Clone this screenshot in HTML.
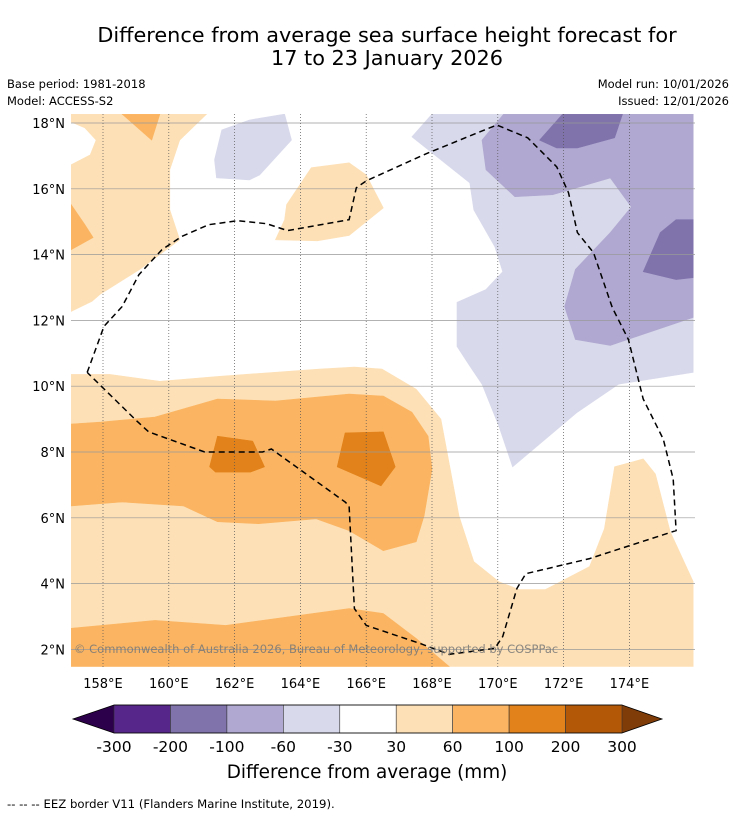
<!DOCTYPE html>
<html><head><meta charset="utf-8"><style>
body{margin:0;background:#fff;}
svg{display:block;font-family:"DejaVu Sans","Liberation Sans",sans-serif;}
</style></head><body>
<svg id="chart" width="736" height="816" viewBox="0 0 736 816">
<text x="387" y="42" font-size="20.8" text-anchor="middle">Difference from average sea surface height forecast for</text>
<text x="387" y="65" font-size="20.8" text-anchor="middle">17 to 23 January 2026</text>
<text x="7" y="88" font-size="11.5">Base period: 1981-2018</text>
<text x="7" y="105" font-size="11.5">Model: ACCESS-S2</text>
<text x="729" y="88" font-size="11.5" text-anchor="end">Model run: 10/01/2026</text>
<text x="729" y="105" font-size="11.5" text-anchor="end">Issued: 12/01/2026</text>
<defs><clipPath id="mapclip"><rect x="71" y="114" width="624" height="554"/></clipPath></defs>
<g id="map" clip-path="url(#mapclip)"></g>
<g id="axes"></g>
<text x="74" y="653" font-size="11.5" fill="#777" fill-opacity="0.85">© Commonwealth of Australia 2026, Bureau of Meteorology, supported by COSPPac</text>
<g id="cbar"></g>
<text x="367" y="778" font-size="18.4" text-anchor="middle">Difference from average (mm)</text>
<text x="7" y="808" font-size="11.7">--  --  -- EEZ border V11 (Flanders Marine Institute, 2019).</text>
</svg>
<script>
const lonTicks=[158,160,162,164,166,168,170,172,174];
const latTicks=[2,4,6,8,10,12,14,16,18];
const cbarLevels=["-300","-200","-100","-60","-30","30","60","100","200","300"];
const cbarColors=["#57268a","#8073ac","#b0a8d0","#d8d9eb","#ffffff","#fde0b6","#fbb562","#e2821a","#b35806"];
const cbarLow="#2d004b", cbarHigh="#7f3b08";
// contour polygons [lon,lat]
const loTopLeft=[[157.03,18.27],[161.15,18.27],[160.33,17.48],[160.03,16.58],[160.03,15.36],[160.33,14.45],[159.12,13.55],[157.91,12.79],[157.67,12.58],[157.03,12.27],[157.03,16.73],[157.61,17.03],[157.79,17.48],[157.45,17.85],[157.03,18.03]];
const moTopTri=[[158.58,18.27],[159.73,18.27],[159.48,17.48]];
const moLeftBlob=[[157.03,15.52],[157.45,14.91],[157.70,14.52],[157.03,14.15]];
const lpSmall=[[161.61,17.79],[162.45,18.09],[163.52,18.27],[163.73,17.48],[162.76,16.42],[162.45,16.27],[161.45,16.33],[161.39,16.88]];
const loCenter=[[164.33,16.64],[165.48,16.79],[166.0,16.42],[166.52,15.42],[165.48,14.58],[164.52,14.42],[163.24,14.45],[163.52,15.06],[163.58,15.52]];
const lpEast=[[168.0,18.27],[167.39,17.58],[169.15,16.18],[169.27,15.36],[169.91,14.24],[170.15,13.48],[169.64,12.94],[168.76,12.55],[168.76,11.21],[169.15,10.61],[169.52,10.06],[170.03,8.79],[170.45,7.55],[172.42,9.21],[173.67,10.06],[175.94,10.42],[175.94,18.27]];
const mpEast=[[170.18,18.27],[169.52,17.48],[169.64,16.58],[170.52,15.76],[171.67,15.82],[173.42,16.33],[174.06,15.45],[173.42,14.67],[172.36,13.55],[172.03,12.42],[172.36,11.42],[173.42,11.24],[175.94,12.09],[175.94,18.27]];
const dpTop=[[171.27,17.48],[171.97,18.27],[173.79,18.27],[173.55,17.55],[172.42,17.24],[171.79,17.24]];
const dpRight=[[174.42,13.48],[174.94,14.67],[175.42,15.06],[175.94,15.06],[175.94,13.30],[175.42,13.24]];
const loSouth=[[157.03,10.36],[158.21,10.36],[159.73,10.15],[161.55,10.30],[162.76,10.39],[164.58,10.52],[165.64,10.58],[166.48,10.52],[167.52,9.91],[168.27,9.0],[168.82,6.06],[169.27,4.67],[170.03,4.06],[170.64,3.82],[171.45,3.82],[172.79,4.52],[173.24,5.67],[173.55,7.55],[174.42,7.79],[174.79,7.33],[175.24,5.58],[175.94,4.06],[175.94,1.48],[157.03,1.48]];
const moBand=[[157.03,8.85],[157.94,8.91],[159.58,9.06],[161.48,9.61],[163.24,9.55],[165.48,9.76],[166.52,9.70],[167.39,9.21],[167.88,8.48],[168.0,7.48],[167.76,6.06],[167.52,5.27],[166.52,5.0],[165.48,5.61],[164.48,5.97],[162.73,5.82],[161.48,5.88],[160.45,6.36],[158.58,6.48],[157.03,6.36]];
const doA=[[161.48,8.48],[162.55,8.33],[162.91,7.55],[162.48,7.39],[161.42,7.39],[161.24,7.55]];
const doB=[[165.36,8.58],[166.52,8.61],[166.88,7.55],[166.45,6.97],[165.12,7.55]];
const moSouth=[[157.03,2.64],[159.58,2.88],[161.73,2.73],[165.48,3.24],[166.52,3.09],[167.52,2.33],[168.52,1.48],[157.03,1.48]];
const eez=[[157.52,10.42],[158.03,11.82],[158.58,12.42],[159.09,13.39],[159.79,14.15],[160.39,14.55],[161.21,14.91],[162.09,15.03],[162.97,14.94],[163.61,14.73],[165.48,15.06],[165.70,16.03],[166.0,16.24],[167.88,17.09],[169.97,17.94],[170.91,17.55],[171.79,16.67],[172.15,15.88],[172.42,14.67],[172.91,14.06],[173.48,12.39],[173.97,11.42],[174.42,9.61],[175.03,8.39],[175.33,7.18],[175.42,5.61],[172.79,4.76],[170.85,4.30],[170.58,3.85],[170.15,2.39],[169.91,2.03],[168.52,1.85],[167.64,2.18],[166.0,2.73],[165.64,3.24],[165.48,6.36],[165.36,6.48],[163.12,8.09],[162.85,8.0],[161.09,8.0],[159.39,8.61],[159.03,8.94],[157.52,10.42]];

const NS="http://www.w3.org/2000/svg";
const xS=lon=>103+(lon-158)*32.9;
const yS=lat=>123+(18-lat)*32.9;
const map=document.getElementById('map'), axes=document.getElementById('axes'), cbar=document.getElementById('cbar');
function mk(tag,attrs,parent){const e=document.createElementNS(NS,tag);for(const k in attrs)e.setAttribute(k,attrs[k]);parent.appendChild(e);return e;}
function pts(arr){return arr.map(p=>xS(p[0]).toFixed(1)+','+yS(p[1]).toFixed(1)).join(' ');}
const layers=[[loTopLeft,5,'light-orange-northwest'],[moTopTri,6,'orange-north-triangle'],[moLeftBlob,6,'orange-west-blob'],[lpSmall,3,'light-purple-north-blob'],[loCenter,5,'light-orange-central-blob'],[lpEast,3,'light-purple-east'],[mpEast,2,'purple-east'],[dpTop,1,'dark-purple-north'],[dpRight,1,'dark-purple-east'],[loSouth,5,'light-orange-south'],[moBand,6,'orange-band'],[doA,7,'dark-orange-blob-west'],[doB,7,'dark-orange-blob-east'],[moSouth,6,'orange-south']];
layers.forEach(l=>{
  const p=mk('polygon',{points:pts(l[0]),fill:cbarColors[l[1]],stroke:cbarColors[l[1]],'stroke-width':0.6},map);
  
  
});
latTicks.forEach(t=>{
  const g=mk('line',{x1:71,x2:695,y1:yS(t),y2:yS(t),stroke:'#999','stroke-width':0.7},map);
  
  
  const tx=mk('text',{x:65,y:yS(t)+5,'font-size':13,'text-anchor':'end'},axes);
  tx.textContent=t+'°N';
  
  
});
lonTicks.forEach(t=>{
  const g=mk('line',{x1:xS(t),x2:xS(t),y1:114,y2:668,stroke:'#555','stroke-width':0.7,'stroke-dasharray':'1,2'},map);
  
  
  const tx=mk('text',{x:xS(t),y:688,'font-size':13,'text-anchor':'middle'},axes);
  tx.textContent=t+'°E';
  
  
});
const ez=mk('polyline',{points:pts(eez),fill:'none',stroke:'#000','stroke-width':1.5,'stroke-dasharray':'6,4'},map);


const cx0=114,cx1=622,cy=705,ch=28,cw=(cx1-cx0)/cbarColors.length;
const la=mk('polygon',{points:`${cx0},${cy} 73,${cy+ch/2} ${cx0},${cy+ch}`,fill:cbarLow},cbar);


const ra=mk('polygon',{points:`${cx1},${cy} 662,${cy+ch/2} ${cx1},${cy+ch}`,fill:cbarHigh},cbar);


cbarColors.forEach((c,i)=>{
  const r=mk('rect',{x:cx0+i*cw,y:cy,width:cw,height:ch,fill:c,stroke:'#333','stroke-width':0.6},cbar);
  
  
});
mk('polygon',{points:`73,${cy+ch/2} ${cx0},${cy} ${cx1},${cy} 662,${cy+ch/2} ${cx1},${cy+ch} ${cx0},${cy+ch}`,fill:'none',stroke:'#000','stroke-width':0.8},cbar);
cbarLevels.forEach((v,i)=>{
  const t=mk('text',{x:cx0+i*cw,y:752,'font-size':15.5,'text-anchor':'middle'},cbar);
  t.textContent=v;
  
  
});
</script>
</body></html>
